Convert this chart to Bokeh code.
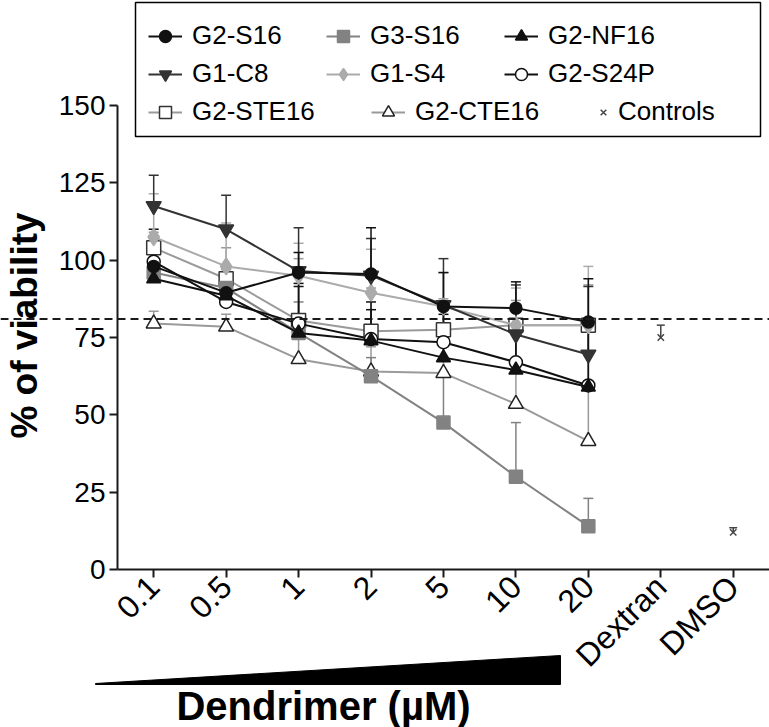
from math import pi
from bokeh.plotting import figure
from bokeh.models import (Range1d, FixedTicker, Span, Whisker, TeeHead, Legend, LegendItem,
                          ColumnDataSource, BoxAnnotation, PolyAnnotation, Label)
from bokeh.embed import file_html
from bokeh.resources import INLINE

# ---------------- data ----------------
x_labels = ["0.1", "0.5", "1", "2", "5", "10", "20", "Dextran", "DMSO"]
conc_pos = [0, 1, 2, 3, 4, 5, 6]
ctrl_pos = [7, 8]

g2_s16 = [98, 89.5, 96, 95.5, 85, 84.5, 80]
g2_s16_sd = [12, 8, 6.5, 15, 11, 8.5, 14]
g3_s16 = [96, 91, 76.5, 62.5, 47.5, 30, 14]
g3_s16_sd = [8, 6, 10, 6, 16, 17.5, 9]
g2_nf16 = [94, 88.5, 76.5, 74, 68.5, 64.5, 59]
g2_nf16_sd = [6, 6, 15, 10, 14, 12, 20]
g1_c8 = [117.5, 110, 96.5, 95, 85.5, 76, 69.5]
g1_c8_sd = [10, 11, 14, 12, 15, 16, 22]
g1_s4 = [107.5, 98, 95, 89.5, 85, 79, 79]
g1_s4_sd = [14, 14, 10.5, 14, 11, 12, 19]
g2_s24p = [99.5, 86.5, 79.5, 74.5, 73.5, 67, 59.5]
g2_s24p_sd = [6, 5, 13, 12, 12, 14, 18]
g2_ste16 = [104, 94, 80.5, 77, 77.5, 79, 79]
g2_ste16_sd = [5, 10, 20, 14, 10, 8, 13]
g2_cte16 = [79.5, 78.5, 68, 64, 63.5, 53.5, 41.5]
g2_cte16_sd = [4, 4, 8, 8, 10, 10, 18]
controls = [75, 12]
controls_sd = [4, 1.5]
threshold = 81
y_ticks = [0, 25, 50, 75, 100, 125, 150]

FONT = "Liberation Sans"

# ---------------- geometry (reference-pixel helpers) ----------------
W, H = 769, 727
X0_PX, DX_PX = 153.2, 72.44        # pixel of first category and spacing
Y0_PX, PX_PER_UNIT = 569.0, 3.093  # pixel of y=0 and scale


def xd(rx):
    return (rx - X0_PX) / DX_PX


def yd(ry):
    return (Y0_PX - ry) / PX_PER_UNIT


p = figure(width=W, height=H, output_backend="svg", toolbar_location=None,
           x_range=Range1d(xd(0), xd(W)), y_range=Range1d(yd(H), yd(0)),
           min_border_left=0, min_border_right=0, min_border_top=0, min_border_bottom=0)
p.outline_line_color = None
p.grid.visible = False
p.background_fill_color = "white"

# axes, pinned at the data origin inside the frame
for ax in (p.xaxis[0], p.yaxis[0]):
    ax.axis_line_width = 2
    ax.axis_line_color = "#1a1a1a"
    ax.major_tick_line_width = 2
    ax.major_tick_line_color = "#1a1a1a"
    ax.minor_tick_line_color = None
    ax.major_tick_in = 0
    ax.major_tick_out = 8
    ax.major_label_text_font = FONT
    ax.major_label_text_color = "black"

p.yaxis[0].major_label_text_font_size = "28px"
p.yaxis[0].ticker = FixedTicker(ticks=y_ticks)
p.yaxis[0].bounds = (0, 150)
p.yaxis[0].fixed_location = -0.5
p.yaxis[0].major_label_standoff = 4
p.xaxis[0].major_label_text_font_size = "32px"
p.xaxis[0].ticker = FixedTicker(ticks=list(range(len(x_labels))))
p.xaxis[0].major_label_overrides = {i: lab for i, lab in enumerate(x_labels)}
p.xaxis[0].major_label_orientation = pi / 4
p.xaxis[0].major_label_standoff = 4
p.xaxis[0].bounds = (-0.5, xd(W))
p.xaxis[0].fixed_location = 0

# threshold line
p.add_layout(Span(location=threshold, dimension="width", line_color="#1a1a1a",
                  line_width=2, line_dash="8 5"))

series = [
    ("G2-STE16", g2_ste16, g2_ste16_sd, "#9a9a9a", "square", "white", "#333333", 14),
    ("G2-CTE16", g2_cte16, g2_cte16_sd, "#9a9a9a", "triangle", "white", "#222222", 15),
    ("G1-S4", g1_s4, g1_s4_sd, "#ababab", "diamond", "#ababab", "#ababab", 17),
    ("G3-S16", g3_s16, g3_s16_sd, "#828282", "square", "#828282", "#828282", 13),
    ("G1-C8", g1_c8, g1_c8_sd, "#333333", "inverted_triangle", "#333333", "#333333", 15),
    ("G2-S24P", g2_s24p, g2_s24p_sd, "#111111", "circle", "white", "#111111", 13),
    ("G2-NF16", g2_nf16, g2_nf16_sd, "#111111", "triangle", "#111111", "#111111", 14),
    ("G2-S16", g2_s16, g2_s16_sd, "#111111", "circle", "#111111", "#111111", 12),
]

items = {}
for name, vals, sd, lc, mk, fc, mc, sz in series:
    src = ColumnDataSource(dict(x=conc_pos, y=vals,
                                yu=[v + s for v, s in zip(vals, sd)]))
    p.add_layout(Whisker(base="x", lower="y", upper="yu", source=src, dimension="height",
                         line_color=lc, line_width=1.5, lower_head=None,
                         upper_head=TeeHead(size=10, line_color=lc, line_width=1.5),
                         level="underlay"))
    lr = p.line("x", "y", source=src, line_color=lc, line_width=2)
    sr = p.scatter("x", "y", source=src, marker=mk, size=sz, fill_color=fc,
                   line_color=mc, line_width=1.5)
    items[name] = [lr, sr]

csrc = ColumnDataSource(dict(x=ctrl_pos, y=controls,
                             yu=[v + s for v, s in zip(controls, controls_sd)]))
p.add_layout(Whisker(base="x", lower="y", upper="yu", source=csrc, dimension="height",
                     line_color="#444444", line_width=1.5, lower_head=None,
                     upper_head=TeeHead(size=8, line_color="#444444", line_width=1.5)))
cr = p.scatter("x", "y", source=csrc, marker="x", size=9, line_color="#444444", line_width=1.5)
items["Controls"] = [cr]


# ---------------- legend ----------------
def make_legend(names, glyph_left_px, row_center_px, label_width, glyph_width=34, standoff=10):
    vy = H - row_center_px - 15
    leg = Legend(items=[LegendItem(label=n, renderers=items[n]) for n in names],
                 orientation="horizontal", location=(glyph_left_px, vy),
                 border_line_color=None, background_fill_alpha=0,
                 padding=0, margin=0, spacing=0,
                 glyph_width=glyph_width, glyph_height=30, label_height=30,
                 label_standoff=standoff, label_width=label_width,
                 label_text_font=FONT, label_text_font_size="26px",
                 label_text_color="black")
    p.add_layout(leg)


make_legend(["G2-S16", "G3-S16", "G2-NF16"], 148, 36, 134)
make_legend(["G1-C8", "G1-S4", "G2-S24P"], 148, 74, 134)
make_legend(["G2-STE16", "G2-CTE16"], 148, 112, 179)
make_legend(["Controls"], 593, 112, 20, glyph_width=20, standoff=5)

p.add_layout(BoxAnnotation(left=xd(135), right=xd(760), top=yd(2), bottom=yd(136),
                           fill_alpha=0, line_color="black", line_alpha=1, line_width=1.5))

# ---------------- titles and wedge ----------------
p.add_layout(Label(x=xd(24), y=yd(325), text="% of viability", angle=pi / 2,
                   text_align="center", text_baseline="middle",
                   text_font=FONT, text_font_style="bold", text_font_size="37px",
                   text_color="black"))
p.add_layout(Label(x=xd(323), y=yd(705), text="Dendrimer (µM)",
                   text_align="center", text_baseline="middle",
                   text_font=FONT, text_font_style="bold", text_font_size="40px",
                   text_color="black"))
p.add_layout(PolyAnnotation(xs=[xd(95), xd(560), xd(560), xd(95)],
                            ys=[yd(683), yd(655), yd(684), yd(684)],
                            fill_color="black", fill_alpha=1, line_color="black",
                            line_alpha=1, line_width=1))

open("out.html", "w").write(file_html(p, INLINE))
